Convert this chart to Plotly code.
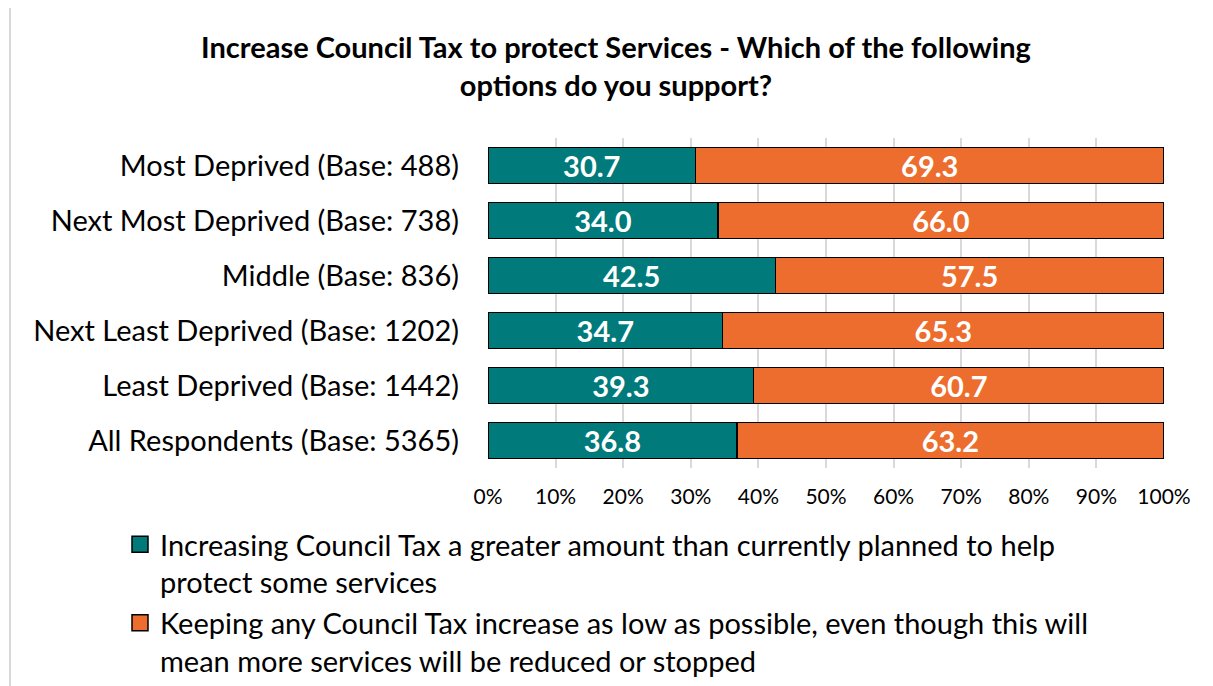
import plotly.graph_objects as go

categories = [
    "Most Deprived (Base: 488)",
    "Next Most Deprived (Base: 738)",
    "Middle (Base: 836)",
    "Next Least Deprived (Base: 1202)",
    "Least Deprived (Base: 1442)",
    "All Respondents (Base: 5365)",
]
increase_vals = [30.7, 34.0, 42.5, 34.7, 39.3, 36.8]
keep_low_vals = [69.3, 66.0, 57.5, 65.3, 60.7, 63.2]
series_names = [
    "Increasing Council Tax a greater amount than currently planned to help<br>protect some services",
    "Keeping any Council Tax increase as low as possible, even though this will<br>mean more services will be reduced or stopped",
]
tick_vals = [0, 10, 20, 30, 40, 50, 60, 70, 80, 90, 100]
tick_text = [f"{v}%" for v in tick_vals]

TEAL = "#007A7B"
ORANGE = "#ED6D2E"
FONT = "Lato"

# page body has an 8px margin, so the figure is drawn 8px smaller
W, H = 1205, 678
ML, MR, MT, MB = 480, 49, 130, 218

fig = go.Figure()
for name, vals, col in [(series_names[0], increase_vals, TEAL), (series_names[1], keep_low_vals, ORANGE)]:
    fig.add_trace(go.Bar(
        y=categories, x=vals, name=name, orientation="h",
        marker=dict(color=col, line=dict(color="black", width=1.5)),
        text=[f"{v:.1f}" for v in vals], textposition="inside",
        insidetextanchor="middle", constraintext="none",
        textfont=dict(color="white", size=29, family=FONT, weight=700),
        width=0.66, showlegend=False,
    ))
    fig.add_trace(go.Scatter(
        x=[None], y=[None], mode="markers", name=name,
        marker=dict(symbol="square", size=16, color=col, line=dict(color="black", width=1.5)),
        showlegend=True,
    ))

pw = W - ML - MR
ph = H - MT - MB
def px2x(px):
    return (px - ML) / pw
def py2y(py):
    return (H - MB - py) / ph

fig.add_shape(type="rect", xref="paper", yref="paper",
              x0=px2x(2), x1=px2x(1240), y0=py2y(720), y1=py2y(-1),
              line=dict(color="#D9D9D9", width=2), fillcolor="rgba(0,0,0,0)", layer="below")

fig.update_layout(
    width=W, height=H,
    margin=dict(l=ML, r=MR, t=MT, b=MB, pad=0, autoexpand=False),
    barmode="stack",
    plot_bgcolor="white", paper_bgcolor="white",
    font=dict(family=FONT, color="black"),
    title=dict(
        text="<b>Increase Council Tax to protect Services - Which of the following<br>options do you support?</b>",
        x=(616 - 8) / W, xanchor="center", xref="container",
        y=1 - 50 / H, yanchor="middle", yref="container",
        font=dict(size=29, family=FONT, color="black"),
    ),
    xaxis=dict(
        range=[0, 100], tickvals=tick_vals, ticktext=tick_text,
        showgrid=True, gridcolor="#D9D9D9", gridwidth=1.5,
        zeroline=False, showline=False, automargin=False, tickangle=0,
        tickfont=dict(size=21, family=FONT), ticks="", ticklabelstandoff=14,
    ),
    yaxis=dict(
        categoryorder="array", categoryarray=categories[::-1],
        showgrid=False, zeroline=False, showline=False, automargin=False,
        tickfont=dict(size=29, family=FONT), ticks="", ticklabelstandoff=28,
    ),
    legend=dict(
        orientation="v", xref="container", yref="container",
        x=112 / W, xanchor="left", y=1 - 511 / H, yanchor="top",
        font=dict(size=29, family=FONT), traceorder="normal", valign="top",
        itemwidth=30, tracegroupgap=0, bgcolor="rgba(0,0,0,0)",
    ),
    showlegend=True,
)

fig.write_html("out.html")
